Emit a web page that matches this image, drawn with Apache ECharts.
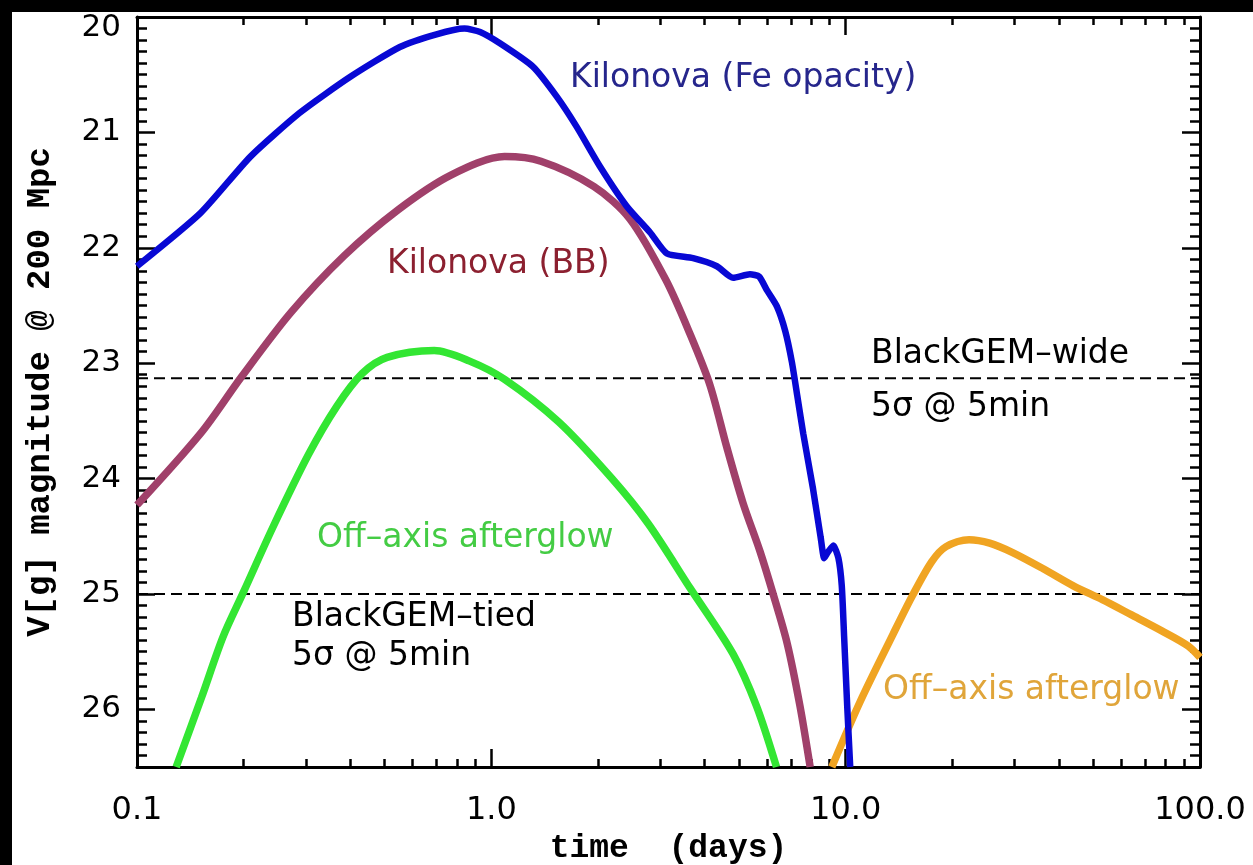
<!DOCTYPE html>
<html>
<head>
<meta charset="utf-8">
<title>Kilonova and afterglow light curves</title>
<script src="https://cdn.jsdelivr.net/npm/echarts@6/dist/echarts.min.js"></script>
<style>
  html, body { margin: 0; padding: 0; background: #000; }
  #chart { position: absolute; left: 12px; top: 12px; width: 1241px; height: 853px; background: #fff; }
</style>
</head>
<body>
<div id="chart"></div>
<script>
// [time (days), V[g] magnitude @ 200 Mpc]
const kilonovaFe = [
  [0.1, 22.16], [0.151, 21.70], [0.209, 21.21], [0.288, 20.83], [0.399, 20.52],
  [0.552, 20.26], [0.70, 20.15], [0.84, 20.10], [0.93, 20.13], [1.06, 20.23],
  [1.31, 20.43], [1.53, 20.69], [1.74, 20.95], [2.03, 21.30], [2.41, 21.64],
  [2.81, 21.87], [3.13, 22.05], [3.71, 22.09], [4.33, 22.16], [4.81, 22.26],
  [5.37, 22.23], [5.7, 22.25], [6.0, 22.37], [6.4, 22.51], [6.75, 22.72],
  [7.05, 22.99], [7.3, 23.28], [7.59, 23.61], [8.09, 24.09], [8.5, 24.51],
  [8.7, 24.69], [8.9, 24.64], [9.23, 24.58], [9.54, 24.69], [9.75, 24.93],
  [9.9, 25.37], [10.1, 25.97], [10.3, 26.5]
];
const kilonovaBB = [
  [0.1, 24.23], [0.152, 23.60], [0.197, 23.12], [0.272, 22.56], [0.384, 22.07],
  [0.546, 21.67], [0.769, 21.37], [1.09, 21.21], [1.38, 21.25], [1.95, 21.47],
  [2.46, 21.75], [3.11, 22.28], [3.64, 22.75], [4.14, 23.19], [4.62, 23.73],
  [5.13, 24.21], [5.73, 24.63], [6.24, 25.0], [6.84, 25.43], [7.43, 25.97],
  [7.94, 26.5]
];
const afterglowEarly = [
  [0.129, 26.5], [0.152, 25.90], [0.175, 25.37], [0.2, 24.98], [0.242, 24.42],
  [0.305, 23.79], [0.367, 23.37], [0.432, 23.09], [0.508, 22.95], [0.69, 22.89],
  [0.865, 22.98], [1.09, 23.14], [1.55, 23.51], [2.19, 24.0], [2.77, 24.39],
  [3.64, 24.95], [4.81, 25.52], [5.6, 25.97], [6.38, 26.5]
];
const afterglowLate = [
  [9.14, 26.5], [11.0, 25.93], [13.6, 25.35], [15.4, 25.02], [17.5, 24.72],
  [19.2, 24.59], [22.3, 24.53], [25.5, 24.56], [29.5, 24.64], [36, 24.78],
  [43.9, 24.93], [53, 25.05], [63.9, 25.18], [78, 25.32], [92.5, 25.45],
  [100, 25.55]
];
const limitWide = 23.13;
const limitTied = 25.0;

const timeMajorTicks = [0.1, 1, 10, 100];
const timeMinorTicks = [0.2, 0.3, 0.4, 0.5, 0.6, 0.7, 0.8, 0.9,
  2, 3, 4, 5, 6, 7, 8, 9, 20, 30, 40, 50, 60, 70, 80, 90];
const magMajorTicks = [20, 21, 22, 23, 24, 25, 26];
const magMinorTicks = [];
for (let i = 201; i < 265; i++) {
  if (i % 10 !== 0) magMinorTicks.push(i / 10);
}

const black = '#000';
const labelFont = 'DejaVu Sans';

function timeAxis(position, ticks, len, main) {
  return {
    type: 'log', logBase: 10, min: 0.1, max: 100, position: position,
    axisLine: { show: main, onZero: false, lineStyle: { color: black, width: 3 } },
    axisTick: { show: true, inside: true, length: len, customValues: ticks,
      lineStyle: { color: black, width: 2.5 } },
    axisLabel: { show: false },
    splitLine: { show: false }
  };
}
function magAxis(position, ticks, len, main) {
  return {
    type: 'value', inverse: true, min: 20, max: 26.5, position: position,
    axisLine: { show: main, onZero: false, lineStyle: { color: black, width: 3 } },
    axisTick: { show: true, inside: true, length: len, customValues: ticks,
      lineStyle: { color: black, width: 2.5 } },
    axisLabel: { show: false },
    splitLine: { show: false }
  };
}

const xBottom = timeAxis('bottom', timeMajorTicks, 18, true);
xBottom.axisLabel = {
  show: true, customValues: timeMajorTicks, margin: 28,
  fontFamily: labelFont, fontSize: 32, color: black,
  formatter: v => Number(v).toFixed(1)
};
xBottom.name = 'time  (days)';
xBottom.nameLocation = 'middle';
xBottom.nameGap = 64;
xBottom.nameTextStyle = { fontFamily: 'Liberation Mono', fontWeight: 'bold', fontSize: 33, color: black };

const yLeft = magAxis('left', magMajorTicks, 18, true);
yLeft.axisLabel = {
  show: true, customValues: magMajorTicks, margin: 16,
  fontFamily: labelFont, fontSize: 31, color: black,
  // the top label sits just below the frame corner, as in the original
  formatter: v => (v === magMajorTicks[0] ? '{first|' + v + '}' : String(v)),
  rich: { first: { fontFamily: labelFont, fontSize: 31, color: black, padding: [22, 0, 0, 0] } }
};
yLeft.name = 'V[g] magnitude @ 200 Mpc';
yLeft.nameLocation = 'middle';
yLeft.nameRotate = 90;
yLeft.nameGap = 80;
yLeft.nameTextStyle = { fontFamily: 'Liberation Mono', fontWeight: 'bold', fontSize: 34, color: black };

function curve(name, data, color, width, smooth) {
  return {
    name: name, type: 'line', data: data, showSymbol: false, smooth: smooth,
    lineStyle: { color: color, width: width }, z: 3
  };
}
function limit(name, value) {
  return {
    name: name, type: 'line', data: [[0.1, value], [100, value]], showSymbol: false,
    lineStyle: { color: black, width: 2, type: [11, 6] }, z: 2
  };
}

function note(text, x, y, color) {
  return {
    type: 'text', x: x, y: y, z: 10,
    style: { text: text, fill: color, font: '33px "DejaVu Sans"', textVerticalAlign: 'middle' }
  };
}

const chart = echarts.init(document.getElementById('chart'));
chart.setOption({
  animation: false,
  backgroundColor: '#fff',
  grid: { left: 125, top: 5, width: 1063, height: 750, containLabel: false, outerBoundsMode: 'none' },
  xAxis: [
    xBottom,
    timeAxis('bottom', timeMinorTicks, 8, false),
    timeAxis('top', timeMajorTicks, 18, true),
    timeAxis('top', timeMinorTicks, 8, false)
  ],
  yAxis: [
    yLeft,
    magAxis('left', magMinorTicks, 10, false),
    magAxis('right', magMajorTicks, 18, true),
    magAxis('right', magMinorTicks, 10, false)
  ],
  series: [
    limit('BlackGEM-wide', limitWide),
    limit('BlackGEM-tied', limitTied),
    curve('Off-axis afterglow (early)', afterglowEarly, '#33e633', 7.5, 0.3),
    curve('Kilonova (BB)', kilonovaBB, '#a0406a', 7.5, 0.3),
    curve('Off-axis afterglow (late)', afterglowLate, '#f0a422', 7.5, 0.3),
    curve('Kilonova (Fe opacity)', kilonovaFe, '#0808d4', 6.5, 0.2)
  ],
  graphic: [
    note('Kilonova (Fe opacity)', 558, 66, '#26268c'),
    note('Kilonova (BB)', 375, 252, '#8c2030'),
    note('Off\u2013axis afterglow', 305, 526, '#44cc44'),
    note('BlackGEM\u2013wide', 859, 342, black),
    note('5\u03c3 @ 5min', 859, 395, black),
    note('BlackGEM\u2013tied', 280, 605, black),
    note('5\u03c3 @ 5min', 280, 644, black),
    note('Off\u2013axis afterglow', 871, 678, '#e0a53a')
  ]
});
</script>
</body>
</html>
